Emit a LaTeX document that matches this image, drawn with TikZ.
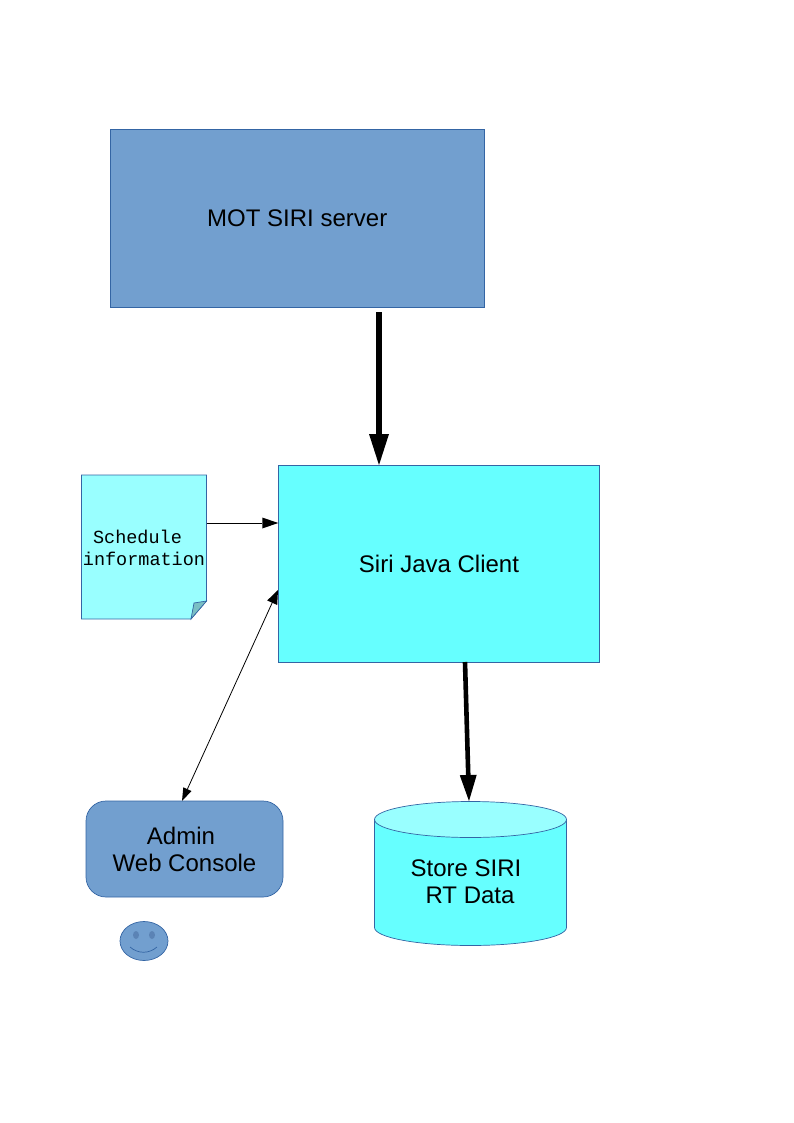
\documentclass[tikz,border=0pt]{standalone}
\usepackage{fontspec}
\setmainfont{Liberation Sans}
\newfontfamily\notefont{Liberation Mono}
\usetikzlibrary{arrows.meta}
\definecolor{boxblue}{HTML}{729FCF}
\definecolor{edgeblue}{HTML}{3465A4}
\definecolor{clientcyan}{HTML}{66FFFF}
\definecolor{palecyan}{HTML}{99FFFF}
\definecolor{foldcyan}{HTML}{7ABFC4}
\definecolor{eyeblue}{HTML}{5B83B5}
\begin{document}
\begin{tikzpicture}[x=1pt,y=-1pt,
    box/.style ={draw=edgeblue, line width=0.7pt, outer sep=0pt, inner sep=0pt, align=center,
      font=\fontsize{24}{27}\selectfont},
    outline/.style ={draw=edgeblue, line width=0.7pt},
    thickflow/.style ={line width=6pt, -{Triangle[length=31pt,width=20pt,line width=0pt]}},
    mediumflow/.style ={line width=4.6pt, -{Triangle[length=26pt,width=17pt,line width=0pt]}},
    thinflow/.style ={line width=0.8pt, -{Triangle[length=16pt,width=11pt,line width=0pt]}},
    bothflow/.style ={line width=0.8pt, {Triangle[length=13pt,width=9pt,line width=0pt]}-{Triangle[length=14pt,width=11pt,line width=0pt]}}]
   \useasboundingbox (0,0) rectangle (794,1123);
   \node[box, fill=boxblue, minimum width=374.5pt, minimum height=178pt] (server) at (297.25,218) {MOT SIRI server};
   \node[box, fill=clientcyan, minimum width=321.5pt, minimum height=197pt] (client) at (439,563.5) {Siri Java Client};
   \node[box, fill=boxblue, rounded corners=20pt, minimum width=197pt, minimum height=96pt] (console) at (184.5,849) {Admin\kern7pt\\Web Console};
   % the cylinder
   \draw[outline, fill=clientcyan] (374.5,819.5) -- (374.5,927.5) .. controls (374.5,937.5) and (417.5,945.5) .. (470.5,945.5)
     .. controls (523.5,945.5) and (566.5,937.5) .. (566.5,927.5) -- (566.5,819.5) -- cycle;
   \draw[outline, fill=palecyan] (470.5,819.5) ellipse [x radius=96, y radius=18];
   \node[font=\fontsize{24}{27}\selectfont, align=center] (store) at (470,882) {Store SIRI\kern8pt\\RT Data};
   % the note is drawn by hand because of its folded corner
   \draw[outline, fill=palecyan] (81.5,475) -- (206.5,475) -- (206.5,601) -- (191,619) -- (81.5,619) -- cycle;
   \draw[outline, fill=foldcyan] (206.5,601) -- (194,603) -- (191,619) -- cycle;
   \node[font=\notefont\fontsize{18.5}{22}\selectfont, align=center, inner sep=0pt] (schedule) at (144,548) {Schedule\kern13pt\\information};
   % smiley
   \draw[outline, fill=boxblue] (144,941) ellipse [x radius=24, y radius=19.5];
   \fill[eyeblue] (136,935) ellipse [x radius=3, y radius=4];
   \fill[eyeblue] (152,935) ellipse [x radius=3, y radius=4];
   \draw[outline] (130,947) .. controls (138,954) and (149,954) .. (157,947);
   % connectors
   \coordinate (servertail) at (379,312);
   \coordinate (clienttail) at (465,662);
   \coordinate (storehead) at (469,801);
   \coordinate (notetail) at (206.5,523);
   \coordinate (consolehead) at (182,801);
   \coordinate (clientside) at (278,590);
   \draw[thickflow] (servertail) to (servertail |- client.north);
   \draw[mediumflow] (clienttail) to (storehead);
   \draw[thinflow] (notetail) to (notetail -| client.west);
   \draw[bothflow] (consolehead) to (clientside);
 \end{tikzpicture}
\end{document}
